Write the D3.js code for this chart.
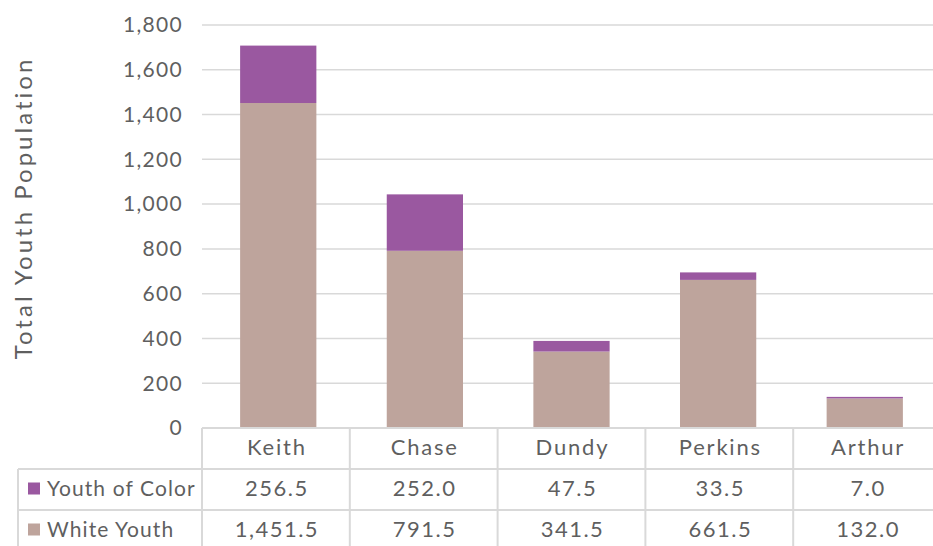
<!DOCTYPE html>
<html>
<head>
<meta charset="UTF-8">
<script src="https://d3js.org/d3.v7.min.js"></script>
<style>
  body { margin: 0; background: #fff; }
  svg { display: block; font-family: "Lato", "Open Sans", sans-serif; }
</style>
</head>
<body>
<svg id="chart" width="933" height="546"></svg>
<script>
const counties = ["Keith", "Chase", "Dundy", "Perkins", "Arthur"];
const youthOfColor = [256.5, 252.0, 47.5, 33.5, 7.0];
const whiteYouth = [1451.5, 791.5, 341.5, 661.5, 132.0];
const yTicks = [0, 200, 400, 600, 800, 1000, 1200, 1400, 1600, 1800];

const series = [
  { name: "White Youth", values: whiteYouth, color: "#BEA49C" },
  { name: "Youth of Color", values: youthOfColor, color: "#9A58A0" }
];

const svg = d3.select("#chart");
const textColor = "#5f5f5f";
const gridColor = "#D9D9D9";

const plotLeft = 202, plotRight = 941, plotTop = 25, plotBottom = 428;

const x = d3.scaleBand().domain(counties).range([plotLeft, plotRight]).paddingInner(0.48).paddingOuter(0.26);
const band = d3.scaleBand().domain(counties).range([plotLeft, plotRight]);
const y = d3.scaleLinear().domain([0, 1800]).range([plotBottom, plotTop]);

// gridlines
svg.append("g").selectAll("line").data(yTicks.slice(1)).join("line")
  .attr("x1", plotLeft).attr("x2", plotRight)
  .attr("y1", d => y(d)).attr("y2", d => y(d))
  .attr("stroke", gridColor).attr("stroke-width", 1.5);

// tick labels
svg.append("g").selectAll("text").data(yTicks).join("text")
  .attr("x", 183).attr("y", d => y(d))
  .attr("dy", "0.35em").attr("text-anchor", "end")
  .attr("fill", textColor).attr("font-size", 21).attr("letter-spacing", 1.3)
  .text(d3.format(","));

// stacked bars
const rows = counties.map((c, i) => {
  const r = { county: c };
  series.forEach(s => r[s.name] = s.values[i]);
  return r;
});
const stacked = d3.stack().keys(series.map(s => s.name))(rows);
svg.append("g").selectAll("g").data(stacked).join("g")
  .attr("fill", (d, i) => series[i].color)
  .selectAll("rect").data(d => d).join("rect")
  .attr("x", d => x(d.data.county))
  .attr("width", x.bandwidth())
  .attr("y", d => y(d[1]))
  .attr("height", d => y(d[0]) - y(d[1]));

// y axis title
svg.append("text")
  .attr("transform", "translate(32,208) rotate(-90)")
  .attr("text-anchor", "middle")
  .attr("fill", textColor).attr("font-size", 24)
  .attr("letter-spacing", 3)
  .text("Total Youth Population");

// data table
const rowY = [plotBottom, 469, 510, 551];
const tableLeft = 18;
const g = svg.append("g").attr("stroke", gridColor).attr("stroke-width", 2);
g.append("line").attr("x1", plotLeft).attr("x2", plotRight).attr("y1", rowY[0]).attr("y2", rowY[0]);
[rowY[1], rowY[2]].forEach(yy => g.append("line").attr("x1", tableLeft).attr("x2", plotRight).attr("y1", yy).attr("y2", yy));
g.append("line").attr("x1", tableLeft).attr("x2", tableLeft).attr("y1", rowY[1]).attr("y2", rowY[3]);
counties.forEach(c => {
  const xx = band(c);
  g.append("line").attr("x1", xx).attr("x2", xx).attr("y1", rowY[0]).attr("y2", rowY[3]);
});

// category labels
svg.append("g").selectAll("text").data(counties).join("text")
  .attr("x", c => band(c) + band.bandwidth() / 2 + 1)
  .attr("y", (rowY[0] + rowY[1]) / 2 - 1)
  .attr("dy", "0.35em").attr("text-anchor", "middle")
  .attr("fill", textColor).attr("font-size", 22).attr("letter-spacing", 1.8)
  .text(c => c);

// table rows: legend + values
const tableSeries = [series[1], series[0]];
const fmt = d3.format(",.1f");
tableSeries.forEach((s, r) => {
  const cy = (rowY[r + 1] + rowY[r + 2]) / 2 - 1;
  svg.append("rect").attr("x", 28).attr("y", cy - 6).attr("width", 12).attr("height", 12).attr("fill", s.color);
  svg.append("text").attr("x", 47).attr("y", cy).attr("dy", "0.35em")
    .attr("fill", textColor).attr("font-size", 21).attr("letter-spacing", 1.1).text(s.name);
  svg.append("g").selectAll("text").data(s.values).join("text")
    .attr("x", (d, i) => band(counties[i]) + band.bandwidth() / 2 + 1)
    .attr("y", cy).attr("dy", "0.35em").attr("text-anchor", "middle")
    .attr("fill", textColor).attr("font-size", 22).attr("letter-spacing", 1.5)
    .text(d => fmt(d));
});
</script>
</body>
</html>
